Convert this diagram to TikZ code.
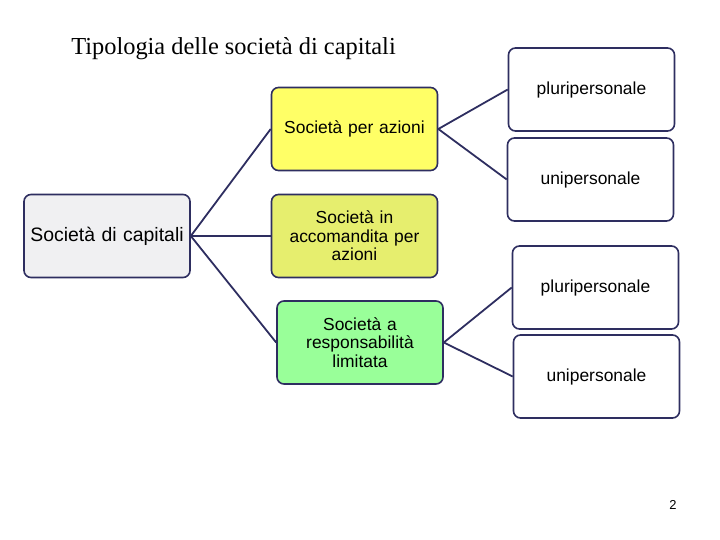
\documentclass[tikz,border=0pt]{standalone}
\usepackage{fontspec}
\setmainfont{Liberation Serif}
\setsansfont{Liberation Sans}
\usetikzlibrary{positioning}
\definecolor{bordo}{RGB}{46,46,96}
\definecolor{grigio}{RGB}{240,240,242}
\definecolor{giallo}{RGB}{255,255,102}
\definecolor{giallino}{RGB}{230,238,110}
\definecolor{verde}{RGB}{153,255,153}

\begin{document}
\begin{tikzpicture}[x=1bp, y=-1bp,
		scatola/.style={draw=bordo, line width=1.6bp, rounded corners=7bp, minimum width=166bp, minimum height=83bp, align=center, text width=156bp, font=\sffamily\fontsize{17.5}{18.5}\selectfont, inner sep=0pt},
		ramo/.style={draw=bordo, line width=1.8bp}]
			%%%%% START %%%%%
			
			\useasboundingbox (0, 0) rectangle (720, 540);
			
			\node[font=\rmfamily\fontsize{24.5}{28}\selectfont] (titolo) at (233.5, 49) {Tipologia delle società di capitali};
			
			\node[scatola, fill=grigio, font=\sffamily\fontsize{19.5}{22}\selectfont] (capitali) at (107, 236) {Società di capitali};
			
			\node[scatola, fill=giallo] (spa) at (354.5, 129) {Società per azioni};
			\node[scatola, fill=giallino] (sapa) at (354.5, 236) {Società in\\accomandita per\\azioni};
			\node[scatola, fill=verde] (srl) at (360, 342.5) {Società a\\responsabilità\\limitata};
			
			\node[scatola, fill=white] (spaplur) at (591.5, 89.5) {pluripersonale};
			\node[scatola, fill=white] (spauni) at (590.5, 179.5) {unipersonale};
			\node[scatola, fill=white] (srlplur) at (595.5, 287.5) {pluripersonale};
			\node[scatola, fill=white] (srluni) at (596.5, 376.5) {unipersonale};
			
			\draw[ramo] (capitali.east) -- (spa.west);
			\draw[ramo] (capitali.east) -- (sapa.west);
			\draw[ramo] (capitali.east) -- (srl.west);
			
			\draw[ramo] (spa.east) -- (spaplur.west);
			\draw[ramo] (spa.east) -- (spauni.west);
			\draw[ramo] (srl.east) -- (srlplur.west);
			\draw[ramo] (srl.east) -- (srluni.west);
			
			\node[font=\sffamily\fontsize{13}{15}\selectfont] (pagina) at (673, 505) {2};
			
			%%%%% END %%%%%
		\end{tikzpicture}
\end{document}
